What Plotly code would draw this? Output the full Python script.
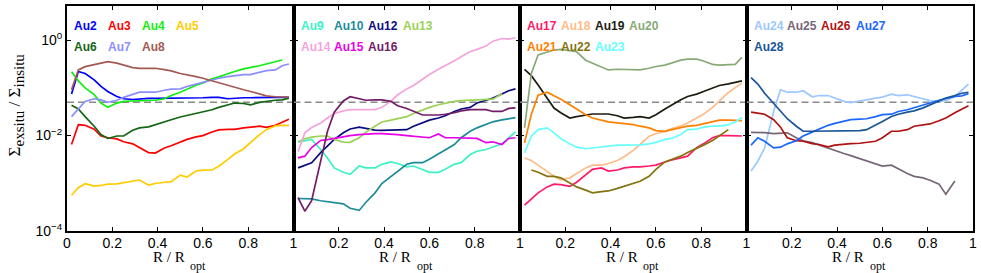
import plotly.graph_objects as go
from plotly.subplots import make_subplots

# ---------------- data ----------------
R_GRID = [0.02, 0.05, 0.08, 0.12, 0.15, 0.18, 0.22, 0.25, 0.29, 0.32, 0.36, 0.39, 0.43, 0.46,
          0.50, 0.53, 0.57, 0.60, 0.64, 0.67, 0.71, 0.74, 0.78, 0.81, 0.85, 0.88, 0.92, 0.95, 0.98]

X_TICKS_FIRST = [0, 0.2, 0.4, 0.6, 0.8, 1]
X_TICKTEXT_FIRST = ["0", "0.2", "0.4", "0.6", "0.8", "1"]
X_TICKS_OTHER = [0.2, 0.4, 0.6, 0.8, 1]
X_TICKTEXT_OTHER = ["0.2", "0.4", "0.6", "0.8", "1"]
Y_TICKS = [1e-4, 1e-2, 1]
Y_TICKTEXT = ["10<sup>\u22124</sup>", "10<sup>\u22122</sup>", "10<sup>0</sup>"]
REF_LEVEL = 0.05

au2 = [0.074, 0.22, 0.20, 0.147, 0.107, 0.084, 0.066, 0.059, 0.057, 0.059, 0.060, 0.060, 0.060, 0.061,
       0.062, 0.061, 0.062, 0.062, 0.063, 0.063, 0.059, 0.061, 0.062, 0.062, 0.063, 0.063, 0.063, 0.063, 0.063]
au3 = [0.0065, 0.0169, 0.0164, 0.0136, 0.0098, 0.0090, 0.0085, 0.0074, 0.0067, 0.0055, 0.0044, 0.0043, 0.0055, 0.0061,
       0.0072, 0.0083, 0.0094, 0.0100, 0.0119, 0.0131, 0.0135, 0.0135, 0.0145, 0.0148, 0.0157, 0.0148, 0.0164, 0.019, 0.022]
au4 = [0.218, 0.14, 0.10, 0.072, 0.048, 0.039, 0.048, 0.052, 0.053, 0.054, 0.054, 0.055, 0.059, 0.069,
       0.081, 0.095, 0.113, 0.127, 0.154, 0.17, 0.20, 0.22, 0.25, 0.265, 0.29, 0.316, 0.35, 0.383, None]
au5 = [0.00056, 0.00081, 0.00098, 0.00087, 0.00090, 0.00096, 0.00097, 0.00102, 0.00111, 0.00117, 0.00092, 0.00099, 0.00105, 0.00108,
       0.00148, 0.00135, 0.00181, 0.00188, 0.0019, 0.00228, 0.00316, 0.0041, 0.0053, 0.0071, 0.0105, 0.0133, 0.0159, 0.0164, 0.0164]
au6 = [0.043, 0.036, 0.025, 0.0157, 0.0105, 0.0087, 0.0098, 0.0098, 0.0129, 0.0145, 0.0152, 0.0169, 0.020, 0.0215,
       0.0245, 0.0265, 0.0287, 0.031, 0.0348, 0.039, 0.0442, 0.048, 0.047, 0.0442, 0.0495, 0.052, 0.055, 0.056, 0.061]
au7 = [0.025, 0.036, 0.052, 0.059, 0.056, 0.050, 0.055, 0.063, 0.0715, 0.081, 0.081, 0.081, 0.089, 0.094,
       0.095, 0.107, 0.12, 0.131, 0.147, 0.159, 0.172, 0.18, 0.19, 0.19, 0.21, 0.23, 0.237, 0.29, 0.316]
au8 = [0.091, 0.237, 0.278, 0.31, 0.33, 0.354, 0.33, 0.30, 0.265, 0.257, 0.257, 0.257, 0.24, 0.226,
       0.20, 0.19, 0.172, 0.159, 0.14, 0.125, 0.112, 0.103, 0.091, 0.084, 0.074, 0.068, 0.065, 0.064, 0.064]

au9 = [0.0073, 0.0079, 0.0083, 0.0051, 0.0034, 0.0021, 0.0017, 0.00154, 0.0023, 0.0021, 0.0021, 0.00249, 0.0028, 0.0026,
       0.0022, 0.0023, 0.00196, 0.0017, 0.0017, 0.00196, 0.00249, 0.0027, 0.004, 0.0047, 0.0051, 0.0057, 0.0067, 0.0089, 0.012]
au10 = [0.00048, 0.00048, 0.00047, 0.00043, 0.00041, 0.00039, 0.00037, 0.0003, 0.00027, 0.00040, 0.00063, 0.00099, 0.0014, 0.0018,
        0.0025, 0.0027, 0.0027, 0.0032, 0.0042, 0.0050, 0.0065, 0.0090, 0.0123, 0.0145, 0.017, 0.0194, 0.0213, 0.0226, 0.0237]
au12 = [0.0021, 0.0024, 0.0027, 0.0044, 0.0062, 0.0083, 0.0114, 0.0137, 0.0150, 0.014, 0.013, 0.0129, 0.0129, 0.0129,
        0.0133, 0.0157, 0.0184, 0.021, 0.0233, 0.026, 0.032, 0.036, 0.039, 0.048, 0.055, 0.061, 0.074, 0.087, 0.095]
au13 = [0.0074, 0.0086, 0.0093, 0.0098, 0.0098, 0.0083, 0.0073, 0.0072, 0.009, 0.0118, 0.0157, 0.0193, 0.021, 0.0225,
        0.025, 0.029, 0.0348, 0.039, 0.0442, 0.048, 0.052, 0.054, 0.055, 0.056, 0.057, 0.058, 0.075, None, None]
au14 = [0.0046, 0.0114, 0.0147, 0.0184, 0.0233, 0.029, 0.033, 0.035, 0.035, 0.035, 0.035, 0.039, 0.052, 0.0715,
        0.095, 0.112, 0.152, 0.19, 0.245, 0.29, 0.37, 0.45, 0.57, 0.64, 0.75, 0.95, 1.08, 1.05, 1.12]
au15 = [0.0034, 0.0037, 0.0056, 0.0079, 0.0082, 0.0087, 0.0095, 0.010, 0.0105, 0.0108, 0.011, 0.011, 0.0108, 0.0105,
        0.010, 0.0097, 0.009, 0.009, 0.0108, 0.009, 0.009, 0.009, 0.009, 0.0087, 0.0071, 0.0074, 0.0065, 0.0087, 0.009]
au16 = [0.00050, 0.00026, 0.00043, 0.0029, 0.0123, 0.031, 0.053, 0.065, 0.058, 0.055, 0.056, 0.056, 0.052, 0.042,
        0.037, 0.032, 0.027, 0.027, 0.027, 0.028, 0.03, 0.033, 0.035, 0.035, 0.035, 0.032, 0.032, 0.037, 0.038]

au17 = [0.00035, 0.00046, 0.00063, 0.00084, 0.00096, 0.00094, 0.00086, 0.00105, 0.0015, 0.00196, 0.0021, 0.0018, 0.0019, 0.0021,
        0.0022, 0.0022, 0.0023, 0.0024, 0.0028, 0.0031, 0.0034, 0.0037, 0.0056, 0.0067, 0.009, 0.010, 0.010, 0.010, 0.0098]
au18 = [0.0034, 0.003, 0.0024, 0.0018, 0.0014, 0.00118, 0.0013, 0.0016, 0.0021, 0.0024, 0.0024, 0.0026, 0.003, 0.0036,
        0.0049, 0.0065, 0.0097, 0.0109, 0.0123, 0.014, 0.0159, 0.0184, 0.0233, 0.028, 0.039, 0.054, 0.08, 0.101, 0.125]
au19 = [0.245, 0.18, 0.115, 0.061, 0.0377, 0.03, 0.0233, 0.025, 0.0263, 0.0283, 0.0283, 0.0283, 0.026, 0.0233,
        0.024, 0.025, 0.0233, 0.0274, 0.036, 0.0442, 0.056, 0.066, 0.074, 0.084, 0.101, 0.112, 0.121, 0.129, 0.14]
au20 = [0.0145, 0.2, 0.49, 0.55, 0.62, 0.64, 0.61, 0.57, 0.38, 0.33, 0.27, 0.237, 0.245, 0.245,
        0.237, 0.237, 0.257, 0.28, 0.30, 0.33, 0.38, 0.40, 0.40, 0.365, 0.31, 0.30, 0.30, 0.31, 0.435]
au21 = [0.007, 0.028, 0.07, 0.081, 0.068, 0.058, 0.0442, 0.036, 0.0274, 0.0233, 0.0205, 0.0193, 0.0184, 0.018,
        0.0169, 0.0157, 0.0145, 0.0127, 0.0123, 0.0133, 0.0145, 0.0157, 0.0164, 0.0175, 0.0193, 0.021, 0.021, 0.021, 0.0205]
au22 = [None, 0.0019, 0.0017, 0.0014, 0.0014, 0.0013, 0.00103, 0.00084, 0.00072, 0.00063, 0.00067, 0.00069, 0.00078, 0.00086,
        0.00099, 0.0011, 0.0014, 0.00196, 0.0028, 0.0032, 0.0037, 0.0044, 0.0053, 0.0063, 0.0079, 0.0097, 0.0133, None, None]
au23 = [0.0043, 0.0097, 0.0133, 0.0145, 0.0114, 0.0087, 0.0067, 0.0057, 0.0053, 0.0055, 0.0059, 0.0062, 0.0063, 0.0063,
        0.0063, 0.0064, 0.0067, 0.0072, 0.0083, 0.0087, 0.0105, 0.0133, 0.0137, 0.015, 0.0157, 0.0157, 0.0169, 0.0193, 0.024]

au24 = [0.0018, 0.0029, 0.0055, 0.032, 0.091, 0.081, 0.081, 0.087, 0.065, 0.069, 0.069, 0.061, 0.052, 0.049,
        0.052, 0.056, 0.061, 0.064, 0.074, 0.069, 0.0715, 0.066, 0.058, 0.054, 0.052, 0.054, 0.066, 0.091, 0.12]
au25 = [0.0117, 0.0117, 0.0115, 0.011, 0.011, 0.0114, 0.009, 0.0078, 0.0071, 0.0063, 0.0055, 0.0049, 0.0042, 0.0038,
        0.0033, 0.003, 0.0026, 0.0023, 0.0024, 0.002, 0.0016, 0.0014, 0.0013, 0.00116, 0.00096, 0.00059, 0.00112, None, None]
au26 = [0.031, 0.03, 0.028, 0.0215, 0.015, 0.009, 0.0078, 0.0076, 0.0068, 0.0065, 0.0058, 0.0063, 0.0067, 0.0068,
        0.0069, 0.0071, 0.0076, 0.009, 0.0123, 0.0123, 0.0133, 0.0157, 0.0164, 0.0175, 0.0205, 0.0233, 0.03, 0.036, 0.042]
au27 = [0.0063, 0.009, 0.0076, 0.0055, 0.0057, 0.0067, 0.0078, 0.0098, 0.0118, 0.0137, 0.0164, 0.018, 0.0198, 0.0215,
        0.0222, 0.0225, 0.025, 0.0274, 0.028, 0.032, 0.0348, 0.038, 0.043, 0.048, 0.055, 0.059, 0.066, 0.068, 0.075]
au28 = [0.164, 0.12, 0.077, 0.0465, 0.032, 0.0225, 0.0157, 0.0123, 0.0123, 0.0123, 0.0123, 0.0123, 0.0123, 0.0123,
        0.0127, 0.0133, 0.0164, 0.0198, 0.025, 0.028, 0.031, 0.033, 0.038, 0.0442, 0.054, 0.061, 0.069, 0.077, 0.08]

PANELS = [
    [("Au2", au2), ("Au3", au3), ("Au4", au4), ("Au5", au5), ("Au6", au6), ("Au7", au7), ("Au8", au8)],
    [("Au9", au9), ("Au10", au10), ("Au12", au12), ("Au13", au13), ("Au14", au14), ("Au15", au15), ("Au16", au16)],
    [("Au17", au17), ("Au18", au18), ("Au19", au19), ("Au20", au20), ("Au21", au21), ("Au22", au22), ("Au23", au23)],
    [("Au24", au24), ("Au25", au25), ("Au26", au26), ("Au27", au27), ("Au28", au28)],
]

COLORS = {
    "Au2": "#0000ff", "Au3": "#ff0000", "Au4": "#11ee11", "Au5": "#ffcc00", "Au6": "#136613",
    "Au7": "#8c8cff", "Au8": "#a45a52",
    "Au9": "#3cf2c4", "Au10": "#1a8c99", "Au12": "#0c0c80", "Au13": "#9ad255", "Au14": "#f5a3dc",
    "Au15": "#e800e8", "Au16": "#731c68",
    "Au17": "#ff1a66", "Au18": "#ffbb88", "Au19": "#1c1c10", "Au20": "#88aa77", "Au21": "#ff8000",
    "Au22": "#857310", "Au23": "#66ffff",
    "Au24": "#9cc8ff", "Au25": "#776677", "Au26": "#b01212", "Au27": "#1a66ff", "Au28": "#1a5599",
}

# ---------------- figure ----------------
W, H = 981, 273
ML, MR, MT, MB = 67, 4, 4, 42
PLOT_H = H - MT - MB
fig = make_subplots(rows=1, cols=4, horizontal_spacing=0)

TICK_FONT = dict(family="Liberation Sans, Arial, sans-serif", size=14, color="black")
SERIF = "Liberation Serif, Times New Roman, serif"

for i, panel in enumerate(PANELS):
    col = i + 1
    fig.add_trace(go.Scatter(x=[0, 1], y=[REF_LEVEL, REF_LEVEL], mode="lines",
                             line=dict(color="#8a8a8a", width=1.5, dash="7px,4px"),
                             hoverinfo="skip", showlegend=False), row=1, col=col)
    for name, vals in panel:
        fig.add_trace(go.Scatter(x=R_GRID, y=vals, mode="lines", name=name,
                                 line=dict(color=COLORS[name], width=1.7),
                                 showlegend=False), row=1, col=col)

axis_common = dict(showline=True, linecolor="black", linewidth=2, mirror="ticks",
                   ticks="inside", ticklen=4, tickwidth=1, tickcolor="black",
                   showgrid=False, zeroline=False, tickfont=TICK_FONT)

for i in range(4):
    xa = "xaxis" if i == 0 else f"xaxis{i+1}"
    ya = "yaxis" if i == 0 else f"yaxis{i+1}"
    fig.layout[xa].update(domain=[i * 0.25, (i + 1) * 0.25], range=[0, 1],
                          tickmode="array",
                          tickvals=X_TICKS_FIRST if i == 0 else X_TICKS_OTHER,
                          ticktext=X_TICKTEXT_FIRST if i == 0 else X_TICKTEXT_OTHER,
                          ticklabelstandoff=-2,
                          **axis_common)
    fig.layout[ya].update(type="log", range=[-4, 0.715], tickmode="array",
                          tickvals=Y_TICKS, ticktext=Y_TICKTEXT,
                          showticklabels=(i == 0), **axis_common)


def py(pix):
    """paper y for a pixel row measured from the top of the figure"""
    return (H - MB - pix) / PLOT_H


LABEL_X = [0.024, 0.172, 0.322, 0.474]
LABEL_Y = [0.91, 0.816]
annotations = []
for i, panel in enumerate(PANELS):
    xref = "x domain" if i == 0 else f"x{i+1} domain"
    yref = "y domain" if i == 0 else f"y{i+1} domain"
    for k, (name, _) in enumerate(panel):
        r, c = divmod(k, 4)
        annotations.append(dict(text=f"<b>{name}</b>", x=LABEL_X[c], y=LABEL_Y[r],
                                xref=xref, yref=yref, xanchor="left", yanchor="middle",
                                showarrow=False,
                                font=dict(family="Liberation Sans, Arial, sans-serif",
                                          size=12, color=COLORS[name])))
    # x-axis title: "R / R" with a lowered "opt" subscript
    annotations.append(dict(text="R / R", x=0.449, y=py(257),
                            xref=xref, yref="paper", xanchor="center", yanchor="middle",
                            showarrow=False, font=dict(family=SERIF, size=15, color="black")))
    annotations.append(dict(text="opt", x=0.58, y=py(266),
                            xref=xref, yref="paper", xanchor="center", yanchor="middle",
                            showarrow=False, font=dict(family=SERIF, size=12, color="black")))

annotations.append(dict(
    text="\u03a3<sub><span style='font-size:15px'>exsitu</span></sub> / "
         "\u03a3<sub><span style='font-size:15px'>insitu</span></sub>",
    x=-0.056, y=py(104), xref="paper", yref="paper", xanchor="center", yanchor="middle",
    textangle=-90, showarrow=False,
    font=dict(family=SERIF, size=17, color="black")))

fig.update_layout(width=W, height=H, margin=dict(l=ML, r=MR, t=MT, b=MB),
                  paper_bgcolor="white", plot_bgcolor="white",
                  annotations=annotations, showlegend=False)

fig.write_html("out.html", config={"displayModeBar": False},
               post_script="document.body.style.margin='0px';")
